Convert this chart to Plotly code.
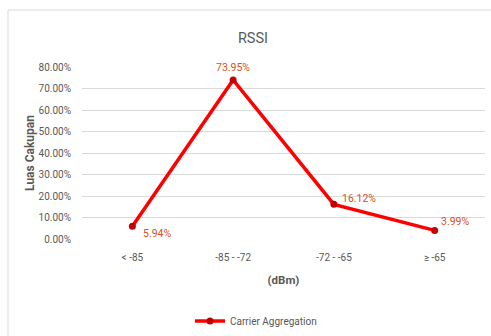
import plotly.graph_objects as go

categories = ["< -85", "-85 - -72", "-72 - -65", "≥ -65"]
values = [0.0594, 0.7395, 0.1612, 0.0399]
labels = ["5.94%", "73.95%", "16.12%", "3.99%"]
series_name = "Carrier Aggregation"
y_ticks = [0, 0.1, 0.2, 0.3, 0.4, 0.5, 0.6, 0.7, 0.8]

FONT = "Roboto, Arial"
GRAY = "#595959"
LABEL = "#D4501E"

fig = go.Figure()
fig.add_trace(go.Scatter(
    x=categories, y=values, mode="lines+markers", name=series_name,
    line=dict(color="#FF0000", width=3.5),
    marker=dict(color="#C00000", size=7),
))

# data label offsets (pixels): xshift, yshift, xanchor
offs = [(9, -7, "left"), (0, 13, "center"), (6, 6, "left"), (4, 9, "left")]
for c, v, t, (dx, dy, xa) in zip(categories, values, labels, offs):
    fig.add_annotation(x=c, y=v, text=t, showarrow=False, xanchor=xa, yanchor="middle",
                       xshift=dx, yshift=dy, font=dict(family=FONT, size=10.5, color=LABEL))

W, H = 491, 336
L, R, T, B = 82, 6, 67, 97
pw, ph = W - L - R, H - T - B

def px(x):
    return (x - L) / pw

def py(y):
    return (H - B - y) / ph

# chart border (left and top only visible)
fig.add_shape(type="line", xref="paper", yref="paper", x0=px(8), x1=px(491), y0=py(10), y1=py(10),
              line=dict(color="#D9D9D9", width=1))
fig.add_shape(type="line", xref="paper", yref="paper", x0=px(8), x1=px(8), y0=py(10), y1=py(336),
              line=dict(color="#D9D9D9", width=1))

fig.update_layout(
    width=W, height=H,
    margin=dict(l=L, r=R, t=T, b=B, autoexpand=False),
    paper_bgcolor="white", plot_bgcolor="white",
    font=dict(family=FONT, size=10, color=GRAY),
    title=dict(text="RSSI", x=253 / W, y=1 - 38 / H, xanchor="center", yanchor="middle",
               xref="container", yref="container",
               font=dict(family=FONT, size=14.5, color=GRAY)),
    xaxis=dict(range=[-0.5, 3.5], showgrid=False, showline=False, zeroline=False, ticks="",
               automargin=False, ticklabelstandoff=11,
               tickfont=dict(family=FONT, size=10, color=GRAY),
               title=dict(text="<b>(dBm)</b>", standoff=13,
                          font=dict(family=FONT, size=11.5, color=GRAY))),
    yaxis=dict(range=[0, 0.8], tickvals=y_ticks, tickformat=".2%",
               showgrid=True, gridcolor="#D9D9D9", gridwidth=1, zeroline=False,
               showline=False, ticks="", ticklabelstandoff=10, automargin=False,
               tickfont=dict(family=FONT, size=10, color=GRAY),
               title=dict(text="<b>Luas Cakupan</b>", standoff=1,
                          font=dict(family=FONT, size=12, color=GRAY))),
    showlegend=True,
    legend=dict(orientation="h", xref="container", yref="container",
                x=256 / W, y=1 - 321 / H, xanchor="center", yanchor="middle",
                font=dict(family=FONT, size=10, color=GRAY), itemwidth=30,
                bgcolor="rgba(0,0,0,0)"),
)

fig.write_html("out.html")
